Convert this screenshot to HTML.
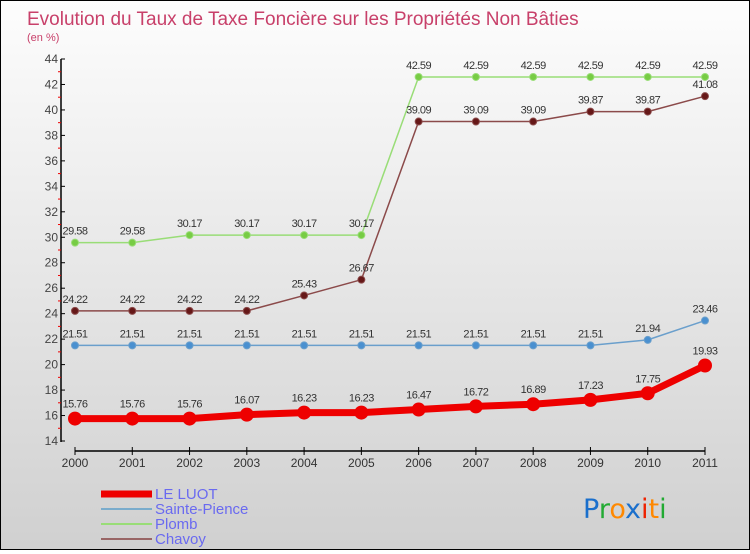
<!DOCTYPE html>
<html><head><meta charset="utf-8"><style>
html,body{margin:0;padding:0}
body{width:750px;height:550px;overflow:hidden;font-family:"Liberation Sans",sans-serif}
#wrap{position:relative;width:748px;height:548px;border:1px solid #000;background:linear-gradient(#fdfdfd,#d0d0d0)}
</style></head><body>
<div id="wrap">
<svg id="chart" width="748" height="548"></svg>
</div>
<script>
const years=["2000","2001","2002","2003","2004","2005","2006","2007","2008","2009","2010","2011"];
const leLuot=[15.76,15.76,15.76,16.07,16.23,16.23,16.47,16.72,16.89,17.23,17.75,19.93];
const sainte=[21.51,21.51,21.51,21.51,21.51,21.51,21.51,21.51,21.51,21.51,21.94,23.46];
const plomb=[29.58,29.58,30.17,30.17,30.17,30.17,42.59,42.59,42.59,42.59,42.59,42.59];
const chavoy=[24.22,24.22,24.22,24.22,25.43,26.67,39.09,39.09,39.09,39.87,39.87,41.08];
const yTicks=[14,16,18,20,22,24,26,28,30,32,34,36,38,40,42,44];
const svg=document.getElementById('chart');
const NS='http://www.w3.org/2000/svg';
function xs(i){return 74+i*(630/11);}
function ys(v){return 440-(v-14)*(382/30);}
function mk(tag,attrs,parent){const e=document.createElementNS(NS,tag);for(const k in attrs)e.setAttribute(k,attrs[k]);(parent||svg).appendChild(e);return e;}
function txt(x,y,s,attrs){const e=mk('text',Object.assign({x:x,y:y},attrs));e.textContent=s;return e;}
let t=txt(26,24,"Evolution du Taux de Taxe Foncière sur les Propriétés Non Bâties",{fill:'#c8406a','font-size':'19'});

t=txt(26,40,"(en %)",{fill:'#c8406a','font-size':'11'});

let ya=mk('line',{x1:60,y1:58,x2:60,y2:441,stroke:'#000','stroke-width':1.5});

yTicks.forEach((v,i)=>{const y=ys(v);
 const l=mk('line',{x1:60,y1:y,x2:64,y2:y,stroke:'#000'});
 
 const tt=txt(57,y+4,String(v),{fill:'#444','font-size':'12','text-anchor':'end'});
 
 if(i<yTicks.length-1){const m=mk('line',{x1:57,y1:ys(v+1),x2:60,y2:ys(v+1),stroke:'#e00'});
 }
});
let xa=mk('line',{x1:74,y1:450,x2:704,y2:450,stroke:'#000','stroke-width':1.5});

years.forEach((yr,i)=>{const x=xs(i);
 const l=mk('line',{x1:x,y1:446,x2:x,y2:454,stroke:'#000'});
 
 const tt=txt(x,466,yr,{fill:'#333','font-size':'12','text-anchor':'middle'});
 
});
function series(vals,name,color,dot,w,r){
 const g=mk('g',{});
 const pts=vals.map((v,i)=>xs(i)+','+ys(v)).join(' ');
 const pl=mk('polyline',{points:pts,fill:'none',stroke:color,'stroke-width':w,'stroke-linejoin':'round'},g);
 
 vals.forEach((v,i)=>{
  const c=mk('circle',{cx:xs(i),cy:ys(v),r:r,fill:dot,stroke:color,'stroke-width':1},g);
  
  const tt=txt(xs(i),ys(v)-8-(r>5?3:0),String(v),{fill:'#333','font-size':'11','text-anchor':'middle','letter-spacing':'-0.5'});
  g.appendChild(tt);
  
 });
}
series(sainte,'sainte-pience','#6a9fcc','#4a90d0',1.5,3.5);
series(plomb,'plomb','#99dd77','#77cc44',1.5,3.5);
series(chavoy,'chavoy','#8b4a4a','#661818',1.5,3.5);
series(leLuot,'le-luot','#ee0000','#ee0000',7,6.5);
const legNames=["LE LUOT","Sainte-Pience","Plomb","Chavoy"];
const legColors=["#ee0000","#7aaccc","#99dd77","#996666"];
const legW=[7,2,2,2];
legNames.forEach((n,i)=>{const y=493+i*15;
 const g=mk('g',{});
 mk('line',{x1:100,y1:y,x2:151,y2:y,stroke:legColors[i],'stroke-width':legW[i]},g);
 const tt=txt(154,y+5,n,{fill:'#6a6af0','font-size':'15'});g.appendChild(tt);
});
const logo=txt(582,517,"",{'font-size':'27','font-family':'DejaVu Sans, sans-serif'});

[["P","#1a6fcc"],["r","#22aa33"],["o","#ff8800"],["x","#1a6fcc"],["i","#ee2200"],["t","#ff8800"],["i","#22aa33"]].forEach(([c,col])=>{
 const s=mk('tspan',{fill:col},logo);s.textContent=c;});
</script>
</body></html>
